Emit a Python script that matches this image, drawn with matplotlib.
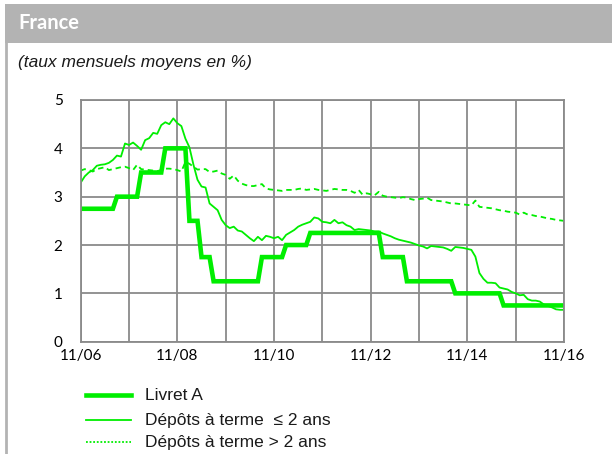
import matplotlib
matplotlib.use("Agg")
import matplotlib.pyplot as plt
from matplotlib.lines import Line2D
from matplotlib.patches import Rectangle
import numpy as np

# Monthly observations, November 2006 to November 2016 (121 months)
tick_labels = ["11/06", "11/08", "11/10", "11/12", "11/14", "11/16"]

livret_a = [
    2.75, 2.75, 2.75, 2.75, 2.75, 2.75, 2.75, 2.75, 2.75,
    3.00, 3.00, 3.00, 3.00, 3.00, 3.00,
    3.50, 3.50, 3.50, 3.50, 3.50, 3.50,
    4.00, 4.00, 4.00, 4.00, 4.00, 4.00,
    2.50, 2.50, 2.50,
    1.75, 1.75, 1.75,
    1.25, 1.25, 1.25, 1.25, 1.25, 1.25, 1.25, 1.25, 1.25, 1.25, 1.25, 1.25,
    1.75, 1.75, 1.75, 1.75, 1.75, 1.75,
    2.00, 2.00, 2.00, 2.00, 2.00, 2.00,
    2.25, 2.25, 2.25, 2.25, 2.25, 2.25, 2.25, 2.25, 2.25, 2.25, 2.25, 2.25,
    2.25, 2.25, 2.25, 2.25, 2.25, 2.25,
    1.75, 1.75, 1.75, 1.75, 1.75, 1.75,
    1.25, 1.25, 1.25, 1.25, 1.25, 1.25, 1.25, 1.25, 1.25, 1.25, 1.25, 1.25,
    1.00, 1.00, 1.00, 1.00, 1.00, 1.00, 1.00, 1.00, 1.00, 1.00, 1.00, 1.00,
    0.75, 0.75, 0.75, 0.75, 0.75, 0.75, 0.75, 0.75, 0.75, 0.75, 0.75, 0.75,
    0.75, 0.75, 0.75, 0.75,
]

depots_court = [
    3.29, 3.42, 3.50, 3.55, 3.64, 3.66, 3.67, 3.70, 3.76, 3.85,
    3.83, 4.10, 4.07, 4.12, 4.05, 3.97, 4.17, 4.21, 4.32, 4.30,
    4.48, 4.54, 4.50, 4.62, 4.52, 4.46, 4.20, 4.02, 3.66, 3.35,
    3.21, 3.19, 2.86, 2.79, 2.72, 2.52, 2.41, 2.35, 2.38, 2.30,
    2.28, 2.21, 2.14, 2.08, 2.17, 2.10, 2.19, 2.17, 2.14, 2.17,
    2.10, 2.21, 2.26, 2.31, 2.38, 2.42, 2.45, 2.48, 2.57, 2.55,
    2.48, 2.47, 2.45, 2.52, 2.45, 2.47, 2.41, 2.38, 2.31, 2.33,
    2.32, 2.31, 2.30, 2.28, 2.28, 2.24, 2.21, 2.18, 2.14, 2.11,
    2.09, 2.07, 2.05, 2.02, 1.99, 1.97, 1.93, 1.98, 1.97, 1.96,
    1.95, 1.92, 1.88, 1.96, 1.95, 1.94, 1.92, 1.90, 1.76, 1.42,
    1.30, 1.22, 1.22, 1.21, 1.12, 1.10, 1.08, 1.03, 1.00, 0.96,
    0.97, 0.88, 0.85, 0.85, 0.83, 0.77, 0.74, 0.71, 0.67, 0.66,
    0.66,
]

depots_long = [
    3.54, 3.57, 3.55, 3.52, 3.57, 3.59, 3.61, 3.55, 3.57, 3.59,
    3.61, 3.62, 3.59, 3.55, 3.66, 3.57, 3.56, 3.55, 3.54, 3.53,
    3.55, 3.58, 3.58, 3.57, 3.55, 3.52, 3.72, 3.68, 3.62, 3.56,
    3.57, 3.57, 3.51, 3.52, 3.54, 3.48, 3.45, 3.37, 3.44, 3.33,
    3.27, 3.24, 3.22, 3.22, 3.24, 3.26, 3.17, 3.15, 3.14, 3.13,
    3.12, 3.14, 3.14, 3.14, 3.16, 3.17, 3.14, 3.15, 3.16, 3.14,
    3.13, 3.12, 3.14, 3.16, 3.15, 3.14, 3.14, 3.12, 3.08, 3.14,
    3.04, 3.07, 3.05, 3.03, 3.10, 3.02, 3.00, 2.99, 2.98, 2.97,
    2.99, 2.98, 2.95, 2.93, 2.95, 2.96, 2.98, 2.93, 2.92, 2.91,
    2.90, 2.88, 2.86, 2.86, 2.85, 2.84, 2.83, 2.82, 2.92, 2.79,
    2.78, 2.77, 2.76, 2.74, 2.72, 2.71, 2.69, 2.68, 2.67, 2.63,
    2.67, 2.63, 2.62, 2.60, 2.59, 2.57, 2.55, 2.54, 2.52, 2.51,
    2.50,
]

series_names = ["Livret A", "Dépôts à terme  \u2264 2 ans", "Dépôts à terme > 2 ans"]

GREEN = "#00ee00"
GRID = "#8a8a8a"
W, H = 612, 454

fig = plt.figure(figsize=(W / 100, H / 100), dpi=100)

# Header band and left rule
fig.add_artist(Rectangle((5 / W, 1 - 43 / H), 1 - 5 / W, 39 / H,
                         transform=fig.transFigure, color="#b3b3b3", lw=0))
fig.add_artist(Line2D([6 / W, 6 / W], [0, 1 - 43 / H], transform=fig.transFigure,
                      color="#b3b3b3", lw=2))
fig.text(18 / W, 1 - 23 / H, "France", color="white", fontsize=14.5,
         fontweight="bold", family="Lato", va="center", ha="left")
fig.text(18 / W, 1 - 62 / H, "(taux mensuels moyens en %)", fontsize=12.5,
         style="italic", family="Liberation Sans", color="#1a1a1a",
         va="center", ha="left")

ax = fig.add_axes([80.7 / W, 1 - 341.7 / H, (564 - 80.7) / W, (341.7 - 100) / H])

x = np.arange(len(livret_a))
ax.plot(x, depots_long, color=GREEN, lw=1.3, dashes=(3, 2.2))
ax.plot(x, depots_court, color=GREEN, lw=1.3)
ax.plot(x, livret_a, color=GREEN, lw=3.3, solid_joinstyle="miter")

ax.set_xlim(0, 120)
ax.set_ylim(0, 5)
ax.set_xticks(np.arange(0, 121, 24))
ax.set_xticklabels(tick_labels)
ax.set_xticks(np.arange(0, 121, 12), minor=True)
ax.set_yticks(np.arange(0, 6, 1))
ax.grid(True, which="both", color=GRID, lw=1.3)
ax.set_axisbelow(True)
for s in ax.spines.values():
    s.set_color(GRID)
    s.set_linewidth(1.3)
ax.tick_params(which="both", length=0)
ax.tick_params(axis="y", pad=13, labelsize=11)
ax.tick_params(axis="x", pad=5, labelsize=11)
for lab in ax.get_xticklabels() + ax.get_yticklabels():
    lab.set_family("Lato")

# Legend drawn below the plot
legend_rows = [(395, 3.3, None), (420, 1.3, None), (442, 1.3, (1, 1))]
for name, (yy, lw, dash) in zip(series_names, legend_rows):
    ln = Line2D([86 / W, 131 / W], [1 - yy / H, 1 - yy / H],
                transform=fig.transFigure, color=GREEN, lw=lw)
    if dash:
        ln.set_dashes(dash)
    fig.add_artist(ln)
    fig.text(145 / W, 1 - yy / H, name, fontsize=12.5, family="Liberation Sans",
             color="#1a1a1a", va="center", ha="left")

fig.savefig("out.png", dpi=100)
